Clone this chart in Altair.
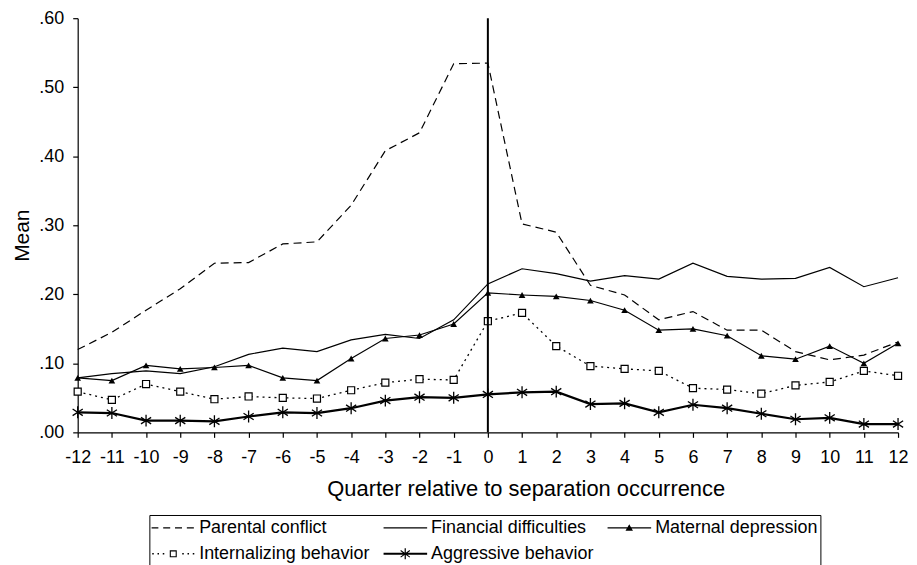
import altair as alt
import pandas as pd

# ---------------- data ----------------
quarters = list(range(-12, 13))
separation_quarter = [0]
series_names = [
    "Parental conflict",
    "Financial difficulties",
    "Maternal depression",
    "Internalizing behavior",
    "Aggressive behavior",
]
parental = [0.120, 0.145, 0.177, 0.208, 0.245, 0.246, 0.273, 0.276, 0.329, 0.408, 0.434, 0.534, 0.535,
            0.302, 0.290, 0.213, 0.199, 0.163, 0.175, 0.148, 0.148, 0.117, 0.105, 0.112, 0.131]
financial = [0.079, 0.085, 0.089, 0.085, 0.095, 0.113, 0.122, 0.117, 0.134, 0.142, 0.136, 0.163, 0.215,
             0.237, 0.230, 0.219, 0.227, 0.222, 0.245, 0.226, 0.222, 0.223, 0.239, 0.211, 0.224]
maternal = [0.079, 0.075, 0.097, 0.092, 0.094, 0.097, 0.079, 0.075, 0.107, 0.136, 0.141, 0.157, 0.202,
            0.199, 0.197, 0.191, 0.177, 0.148, 0.150, 0.140, 0.111, 0.106, 0.125, 0.100, 0.129]
internalizing = [0.059, 0.047, 0.070, 0.059, 0.048, 0.052, 0.050, 0.049, 0.061, 0.072, 0.077, 0.076, 0.161,
                 0.173, 0.125, 0.096, 0.092, 0.089, 0.064, 0.062, 0.056, 0.068, 0.073, 0.089, 0.082]
aggressive = [0.029, 0.028, 0.017, 0.017, 0.016, 0.023, 0.029, 0.028, 0.035, 0.046, 0.051, 0.050, 0.055,
              0.058, 0.059, 0.041, 0.042, 0.029, 0.040, 0.035, 0.027, 0.019, 0.021, 0.012, 0.012]
y_ticks = [0.0, 0.1, 0.2, 0.3, 0.4, 0.5, 0.6]

rows = []
for name, vals in zip(series_names, [parental, financial, maternal, internalizing, aggressive]):
    for q, v in zip(quarters, vals):
        rows.append({"quarter": q, "value": v, "series": name})
df = pd.DataFrame(rows)
sep_df = pd.DataFrame({"quarter": separation_quarter})

# ---------------- styles ----------------
FONT = "Liberation Sans"
ASTERISK = "M0,-1L0,1M-0.85,-0.55L0.85,0.55M-0.85,0.55L0.85,-0.55"


def bar(x1, x2, h):
    return f"M{x1},{-h}H{x2}V{h}H{x1}Z"


LINE_H = 0.028
legend_paths = [
    # dashed
    bar(-1, -0.68, LINE_H) + bar(-0.46, -0.14, LINE_H) + bar(0.08, 0.40, LINE_H) + bar(0.62, 0.94, LINE_H),
    # solid
    bar(-1, 1, LINE_H),
    # solid + filled triangle
    bar(-1, 1, LINE_H) + "M-0.17,0.13L0,-0.17L0.17,0.13Z",
    # dotted + open square
    bar(-0.96, -0.89, 0.032) + bar(-0.72, -0.65, 0.032) + bar(-0.48, -0.41, 0.032)
    + "M-0.16,-0.16H0.16V0.16H-0.16ZM-0.11,-0.11V0.11H0.11V-0.11Z"
    + bar(0.41, 0.48, 0.032) + bar(0.65, 0.72, 0.032) + bar(0.89, 0.96, 0.032),
    # thick + asterisk
    bar(-1, 1, 0.045) + bar(-0.028, 0.028, 0.25)
    + "M-0.1955,-0.1704L0.2245,0.1296L0.1955,0.1704L-0.2245,-0.1296Z"
    + "M-0.2245,0.1296L0.1955,-0.1704L0.2245,-0.1296L-0.1955,0.1704Z",
]

x_enc = alt.X(
    "quarter:Q",
    scale=alt.Scale(domain=[-12, 12], nice=False, zero=False),
    axis=alt.Axis(
        values=quarters,
        tickCount=25,
        title="Quarter relative to separation occurrence",
        labelExpr="datum.value + ''",
        labelOverlap=False,
        labelFlush=False,
        tickSize=5,
        labelPadding=11,
        titlePadding=12,
        titleX=450,
        labelFontSize=18,
        titleFontSize=22,
        grid=False,
    ),
)
y_enc = alt.Y(
    "value:Q",
    scale=alt.Scale(domain=[0, 0.6], nice=False),
    axis=alt.Axis(
        values=y_ticks,
        labelExpr="replace(format(datum.value, '.2f'), '0.', '.')",
        labelOverlap=False,
        labelFlush=False,
        title="Mean",
        tickSize=5,
        labelPadding=9,
        titlePadding=6,
        titleY=218,
        labelFontSize=18,
        titleFontSize=21,
        grid=False,
    ),
)

base = alt.Chart(df).encode(x=x_enc, y=y_enc)


def sel(name):
    return base.transform_filter(alt.datum.series == name)


sep_rule = alt.Chart(sep_df).mark_rule(color="black", strokeWidth=2).encode(x=x_enc)

parental_line = sel("Parental conflict").mark_line(color="black", strokeWidth=1.2, strokeDash=[8, 5])
financial_line = sel("Financial difficulties").mark_line(color="black", strokeWidth=1.2)
maternal_line = sel("Maternal depression").mark_line(color="black", strokeWidth=1.2)
maternal_pts = sel("Maternal depression").mark_point(
    shape="triangle-up", filled=True, color="black", size=45, opacity=1)
intern_line = sel("Internalizing behavior").mark_line(color="black", strokeWidth=1.3, strokeDash=[2, 4])
intern_pts = sel("Internalizing behavior").mark_point(
    shape="square", filled=True, fill="white", stroke="black", strokeWidth=1.2, size=50, opacity=1)
aggr_line = sel("Aggressive behavior").mark_line(color="black", strokeWidth=2.2)
aggr_pts = sel("Aggressive behavior").mark_point(
    shape=ASTERISK, filled=False, color="black", strokeWidth=1.3, size=144, opacity=1)

legend_layer = base.mark_point(filled=True, color="black", opacity=0).encode(
    shape=alt.Shape(
        "series:N",
        scale=alt.Scale(domain=series_names, range=legend_paths),
        legend=alt.Legend(
            title=None,
            orient="none",
            legendX=72,
            legendY=499,
            direction="horizontal",
            columns=3,
            symbolSize=1936,
            clipHeight=22,
            rowPadding=4,
            columnPadding=13,
            padding=2,
            labelOffset=4,
            symbolOffset=0,
            labelLimit=300,
            labelFontSize=18,
            labelFont=FONT,
            labelColor="black",
            symbolFillColor="black",
            symbolStrokeWidth=0,
            symbolOpacity=1,
            strokeColor="black",
        ),
    )
)

chart = (
    alt.layer(
        legend_layer,
        parental_line,
        financial_line,
        maternal_line,
        maternal_pts,
        intern_line,
        intern_pts,
        aggr_line,
        aggr_pts,
        sep_rule,
    )
    .properties(width=824, height=416, padding={"left": 3, "top": 0, "right": 0, "bottom": 0})
    .configure_view(strokeWidth=0)
    .configure_axis(
        domainColor="black",
        domainWidth=1.2,
        tickColor="black",
        tickWidth=1.2,
        labelColor="black",
        titleColor="black",
        labelFont=FONT,
        titleFont=FONT,
        titleFontWeight="normal",
    )
    .configure_axisX(labelOverlap=False)
)

chart.save("out.html", embed_options={"renderer": "svg", "actions": False})
